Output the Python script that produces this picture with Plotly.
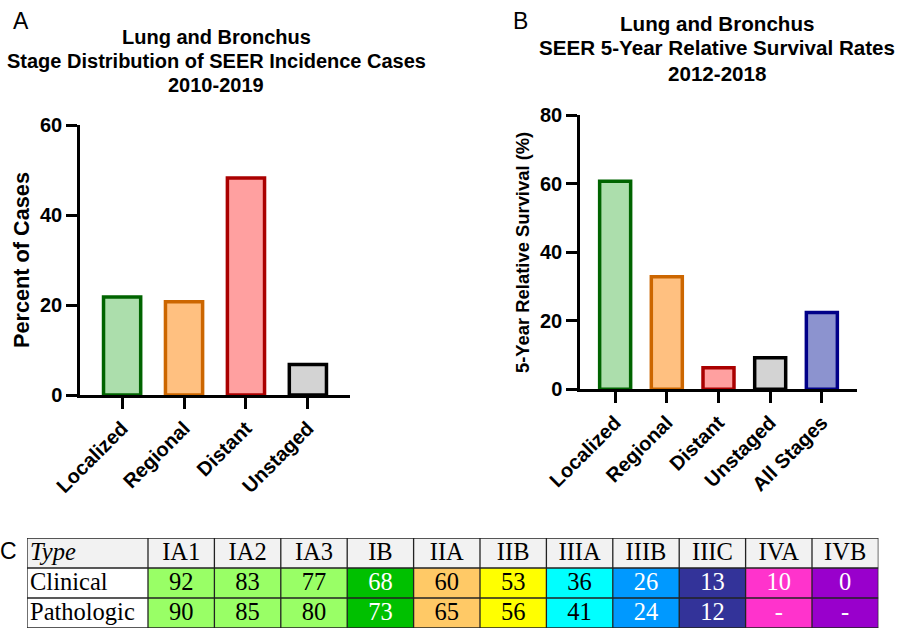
import plotly.graph_objects as go

W, H = 897, 628

# ---- Data ----
stage_cats = ["Localized", "Regional", "Distant", "Unstaged"]
stage_pct = [21.8, 20.7, 48.2, 6.8]

surv_cats = ["Localized", "Regional", "Distant", "Unstaged", "All Stages"]
surv_pct = [60.7, 32.8, 6.3, 9.2, 22.4]

fill_cols = {"Localized": "#acdeac", "Regional": "#ffc080", "Distant": "#ffa0a0",
             "Unstaged": "#d3d3d3", "All Stages": "#8c93cf"}
line_cols = {"Localized": "#006400", "Regional": "#cc6600", "Distant": "#aa0000",
             "Unstaged": "#000000", "All Stages": "#000088"}

tbl_header = ["<i>Type</i>", "IA1", "IA2", "IA3", "IB", "IIA", "IIB", "IIIA", "IIIB", "IIIC", "IVA", "IVB"]
tbl_types = ["Clinical", "Pathologic"]
tbl_clinical = ["92", "83", "77", "68", "60", "53", "36", "26", "13", "10", "0"]
tbl_pathologic = ["90", "85", "80", "73", "65", "56", "41", "24", "12", "-", "-"]
tbl_fill = ["#99ff66", "#99ff66", "#99ff66", "#00c000", "#ffc966", "#ffff00",
            "#00ffff", "#0099ff", "#333399", "#ff33cc", "#9900cc"]
tbl_fontcol = ["black", "black", "black", "white", "black", "black",
               "black", "white", "white", "white", "white"]

# ---- Style ----
col_widths = [121] + [66.4] * 11
header_fill = "#f2f2f2"


def px(x):
    return x / W


def py(y):
    return 1 - y / H


fig = go.Figure()

fig.add_trace(go.Bar(
    x=stage_cats, y=stage_pct, width=0.6,
    marker=dict(color=[fill_cols[c] for c in stage_cats],
                line=dict(color=[line_cols[c] for c in stage_cats], width=3.5)),
    xaxis="x", yaxis="y", showlegend=False, hoverinfo="x+y"))

fig.add_trace(go.Bar(
    x=surv_cats, y=surv_pct, width=0.6,
    marker=dict(color=[fill_cols[c] for c in surv_cats],
                line=dict(color=[line_cols[c] for c in surv_cats], width=3.5)),
    xaxis="x2", yaxis="y2", showlegend=False, hoverinfo="x+y"))

# ---- Table built as heatmap + text ----
edges = [0]
for w in col_widths:
    edges.append(edges[-1] + w)
centers = [(edges[i] + edges[i + 1]) / 2 for i in range(len(col_widths))]

row_colors = [[header_fill] * 12,
              ["white"] + tbl_fill,
              ["white"] + tbl_fill]
palette = []
for r in row_colors:
    for c in r:
        if c not in palette:
            palette.append(c)
n = len(palette)
cscale = []
for i, c in enumerate(palette):
    cscale.append([i / n, c])
    cscale.append([(i + 1) / n, c])
z = [[palette.index(c) + 0.5 for c in r] for r in row_colors]

fig.add_trace(go.Heatmap(
    x=edges, y=[0, 1, 2, 3], z=z, zmin=0, zmax=n, colorscale=cscale,
    showscale=False, hoverinfo="skip", xaxis="x3", yaxis="y3"))

rows_text = [tbl_header, ["Clinical"] + tbl_clinical, ["Pathologic"] + tbl_pathologic]
rows_color = [["black"] * 12, ["black"] + tbl_fontcol, ["black"] + tbl_fontcol]
# first column (left aligned)
fig.add_trace(go.Scatter(
    x=[edges[0] + 3] * 3, y=[0.52, 1.52, 2.52], mode="text",
    text=[r[0] for r in rows_text], textposition="middle right",
    textfont=dict(family="Liberation Serif", size=24.5, color="black"),
    xaxis="x3", yaxis="y3", showlegend=False, hoverinfo="skip"))
xs, ys, ts, cs = [], [], [], []
for ri in range(3):
    for ci in range(1, 12):
        xs.append(centers[ci])
        ys.append(ri + 0.52)
        ts.append(rows_text[ri][ci])
        cs.append(rows_color[ri][ci])
fig.add_trace(go.Scatter(
    x=xs, y=ys, mode="text", text=ts, textposition="middle center",
    textfont=dict(family="Liberation Serif", size=24.5, color=cs),
    xaxis="x3", yaxis="y3", showlegend=False, hoverinfo="skip"))

shapes = []
for e in edges:
    shapes.append(dict(type="line", xref="x3", yref="y3", x0=e, x1=e, y0=0, y1=3,
                       line=dict(color="#222222", width=1.3)))
for r in range(4):
    shapes.append(dict(type="line", xref="x3", yref="y3", x0=edges[0], x1=edges[-1], y0=r, y1=r,
                       line=dict(color="#222222", width=1.3)))

axis_common = dict(showline=True, linecolor="black", linewidth=2.5, ticks="outside",
                   ticklen=11, tickwidth=2.5, tickcolor="black", showgrid=False,
                   zeroline=False, fixedrange=True)
tickfont = dict(family="Liberation Sans", size=20, color="black", weight="bold")

fig.update_layout(
    width=W, height=H, margin=dict(l=0, r=0, t=0, b=0, autoexpand=False),
    paper_bgcolor="white", plot_bgcolor="white",
    font=dict(family="Liberation Sans", color="black"),
    xaxis=dict(domain=[px(80), px(350)], range=[-0.68, 3.68], tickangle=-45,
               tickfont=tickfont, anchor="y", **axis_common),
    yaxis=dict(domain=[py(395), py(125)], range=[0, 60], tickvals=[0, 20, 40, 60],
               tickfont=tickfont, anchor="x", **axis_common),
    xaxis2=dict(domain=[px(580), px(857)], range=[-0.68, 4.68], tickangle=-45,
                tickfont=tickfont, anchor="y2", **axis_common),
    yaxis2=dict(domain=[py(389.3), py(115)], range=[0, 80], tickvals=[0, 20, 40, 60, 80],
                tickfont=tickfont, anchor="x2", **axis_common),
    xaxis3=dict(domain=[px(27), px(27 + edges[-1])], range=[edges[0], edges[-1]],
                visible=False, fixedrange=True, anchor="y3"),
    yaxis3=dict(domain=[py(538 + 90), py(538)], range=[3, 0],
                visible=False, fixedrange=True, anchor="x3"),
    shapes=shapes,
)

ann = []
bold = dict(family="Liberation Sans", size=20, color="black", weight="bold")
boldB = dict(family="Liberation Sans", size=20.6, color="black", weight="bold")
for txt, y in [("Lung and Bronchus", 37), ("Stage Distribution of SEER Incidence Cases", 61),
               ("2010-2019", 85)]:
    ann.append(dict(text=txt, x=px(216), y=py(y), xanchor="center", yanchor="middle", font=bold))
for txt, y in [("Lung and Bronchus", 24), ("SEER 5-Year Relative Survival Rates", 48),
               ("2012-2018", 74)]:
    ann.append(dict(text=txt, x=px(717), y=py(y), xanchor="center", yanchor="middle", font=boldB))
letter = dict(family="Liberation Sans", size=23, color="black")
ann.append(dict(text="A", x=px(11), y=py(21), xanchor="left", yanchor="middle", font=letter))
ann.append(dict(text="B", x=px(511), y=py(21), xanchor="left", yanchor="middle", font=letter))
ann.append(dict(text="C", x=px(-2), y=py(551), xanchor="left", yanchor="middle", font=letter))
ann.append(dict(text="Percent of Cases", x=px(21), y=py(260), textangle=-90,
                xanchor="center", yanchor="middle",
                font=dict(family="Liberation Sans", size=21.7, color="black", weight="bold")))
ann.append(dict(text="5-Year Relative Survival (%)", x=px(523), y=py(253), textangle=-90,
                xanchor="center", yanchor="middle",
                font=dict(family="Liberation Sans", size=18.4, color="black", weight="bold")))
for a in ann:
    a.update(xref="paper", yref="paper", showarrow=False)
fig.update_layout(annotations=ann)

fig.write_html("out.html", config={"displayModeBar": False})
